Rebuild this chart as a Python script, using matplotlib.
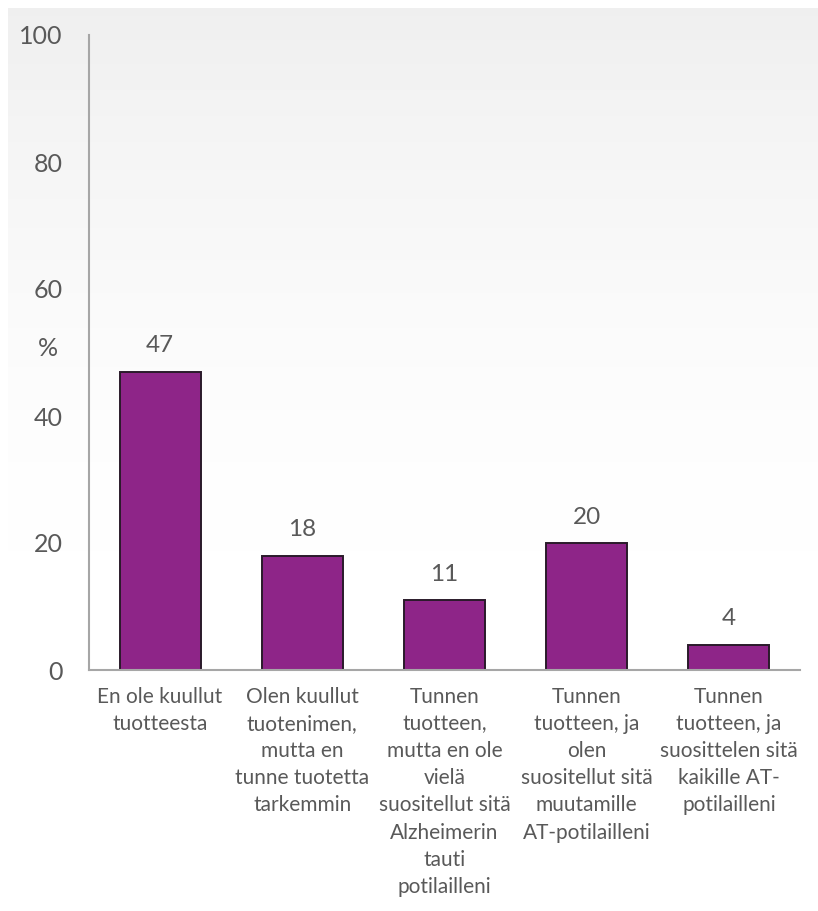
import numpy as np
from matplotlib import pyplot as plt

categories = [
    "En ole kuullut\ntuotteesta",
    "Olen kuullut\ntuotenimen,\nmutta en\ntunne tuotetta\ntarkemmin",
    "Tunnen\ntuotteen,\nmutta en ole\nvielä\nsuositellut sitä\nAlzheimerin\ntauti\npotilailleni",
    "Tunnen\ntuotteen, ja\nolen\nsuositellut sitä\nmuutamille\nAT-potilailleni",
    "Tunnen\ntuotteen, ja\nsuosittelen sitä\nkaikille AT-\npotilailleni",
]
values = [47, 18, 11, 20, 4]
y_ticks = [0, 20, 40, 60, 80, 100]

text_color = "#595959"
plt.rcParams["font.family"] = ["Lato", "DejaVu Sans"]

fig = plt.figure(figsize=(8.18, 9.11), dpi=100)

# light grey fade at the top of the panel
bg = fig.add_axes([8 / 818, 0, 1 - 8 / 818, 1 - 8 / 911], zorder=-10)
t = np.linspace(0, 1, 600)
shade = 1 - 0.06 * np.clip(1 - t / 0.6, 0, 1) ** 1.5
img = np.repeat(shade[:, None, None], 3, axis=2).repeat(2, axis=1)
bg.imshow(img, aspect="auto", extent=[0, 1, 0, 1], origin="upper",
          interpolation="bilinear")
bg.axis("off")

ax = fig.add_axes([89 / 818, 1 - 670 / 911, (800 - 89) / 818, (670 - 35) / 911])
ax.patch.set_alpha(0)
x = np.arange(len(values))
bars = ax.bar(x, values, width=0.57, color="#8e2588", edgecolor="#2a1a2a", linewidth=1.4)
for xi, v in zip(x, values):
    ax.text(xi, v + 2.4, str(v), ha="center", va="bottom", fontsize=17.5, color=text_color)

ax.set_xlim(-0.5, len(values) - 0.5)
ax.set_ylim(0, 100)
ax.set_yticks(y_ticks)
ax.set_yticklabels([str(t) for t in y_ticks], fontsize=18, color=text_color)
ax.set_xticks(x)
ax.set_xticklabels(categories, fontsize=15, color=text_color, linespacing=1.45)
ax.tick_params(axis="both", length=0)
ax.tick_params(axis="y", pad=19)
ax.tick_params(axis="x", pad=12)
ax.set_ylabel("%", rotation=0, fontsize=18, color=text_color, va="center", ha="center")
ax.yaxis.set_label_coords(-0.058, 0.507)

for s in ["top", "right"]:
    ax.spines[s].set_visible(False)
for s in ["left", "bottom"]:
    ax.spines[s].set_color("#a6a6a6")
    ax.spines[s].set_linewidth(1.5)

fig.savefig("out.png", dpi=100)
